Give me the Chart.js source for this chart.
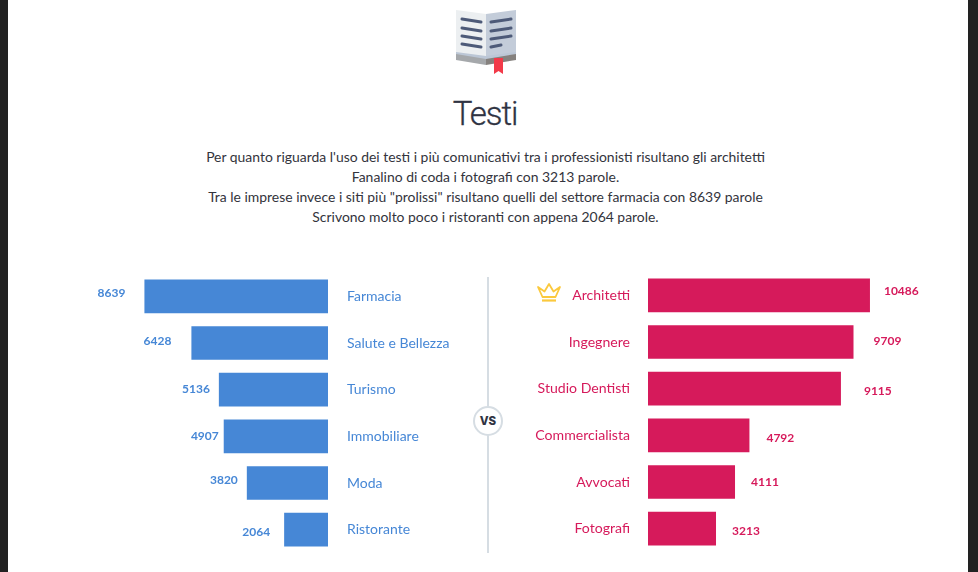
<!DOCTYPE html>
<html lang="it">
<head>
<meta charset="utf-8">
<title>Testi</title>
<script src="https://cdn.jsdelivr.net/npm/chart.js@4"></script>
<style>
  html, body { margin: 0; height: 100%; background: #222; overflow: hidden; }
  #page { position: absolute; left: 8px; top: 0; width: 960px; height: 572px; background: #fff; font-family: Lato, sans-serif; color: #33343c; }
  #book { position: absolute; left: 447px; top: 8px; }
  h1 { position: absolute; left: 0; top: 94px; width: 954px; margin: 0; text-align: center; font: 300 33px Roboto, sans-serif; letter-spacing: -1.1px; color: #2f3342; -webkit-text-stroke: 0.3px #2f3342; }
  #intro { position: absolute; left: 0; top: 147px; width: 955px; margin: 0; text-align: center; font-size: 13.93px; line-height: 20px; }
  #divider { position: absolute; left: 479px; top: 277px; width: 2px; height: 276px; background: #d6dde3; }
  #vs { position: absolute; left: 465px; top: 406px; width: 26px; height: 26px; border: 2px solid #d6dde3; border-radius: 50%; background: #fff; text-align: center; font: 800 11.5px/26px Inter, sans-serif; color: #2f3342; }
  #crown { position: absolute; left: 528px; top: 282px; }
  canvas { position: absolute; }
  #leftChart { left: 64px; top: 273px; }
  #rightChart { left: 480px; top: 272px; }
</style>
</head>
<body>
<div id="page">
  <svg id="book" width="62" height="68" viewBox="0 0 62 68">
    <path d="M31 6 L1 2 V48 L31 52 Z" fill="#eceff1"/>
    <path d="M31 6 L61 2 V48 L31 52 Z" fill="#c3ccd9"/>
    <path d="M1 44 L31 48 L61 44 V51 L31 56 L1 51 Z" fill="#bcc7d6"/>
    <path d="M1 46 L31 51 V57 L1 52 Z" fill="#a5a8ab"/>
    <path d="M31 51 L61 46 V52 L31 57 Z" fill="#85817e"/>
    <path d="M39 50 L48 50 V66 L43.5 63 L39 66 Z" fill="#f23a49"/>
    <g stroke="#4d5a78" stroke-width="3" stroke-linecap="round" fill="none">
      <path d="M7 11 L26 14 M7 20 L26 23 M7 28 L26 31 M7 36 L26 39"/>
      <path d="M36 14 L56 11 M36 23 L56 20 M36 31 L56 28 M36 39 L46 37"/>
    </g>
  </svg>
  <h1>Testi</h1>
  <p id="intro">Per quanto riguarda l'uso dei testi i più comunicativi tra i professionisti risultano gli architetti<br>
  Fanalino di coda i fotografi con 3213 parole.<br>
  Tra le imprese invece i siti più "prolissi" risultano quelli del settore farmacia con 8639 parole<br>
  Scrivono molto poco i ristoranti con appena 2064 parole.</p>
  <canvas id="leftChart" width="410" height="280"></canvas>
  <canvas id="rightChart" width="470" height="280"></canvas>
  <div id="divider"></div>
  <div id="vs">VS</div>
  <svg id="crown" width="26" height="21" viewBox="0 0 26 21" fill="none" stroke="#fbc93d" stroke-width="1.8" stroke-linejoin="round">
    <path d="M2 5 L6.5 15 H19.5 L24 5 L17.5 9.5 L13 2 L8.5 9.5 Z"/>
    <path d="M6 18.5 H20" stroke-width="2.2"/>
  </svg>
</div>

<script>
const impreseLabels = ["Farmacia", "Salute e Bellezza", "Turismo", "Immobiliare", "Moda", "Ristorante"];
const impreseValues = [8639, 6428, 5136, 4907, 3820, 2064];
const professioniLabels = ["Architetti", "Ingegnere", "Studio Dentisti", "Commercialista", "Avvocati", "Fotografi"];
const professioniValues = [10486, 9709, 9115, 4792, 4111, 3213];

const blue = "#4687d6";
const crimson = "#d61a5b";
Chart.defaults.font.family = "Lato, sans-serif";

// the numbers beside the bars sit at uneven distances in the picture
function valueLabels(gaps, shifts) {
  return {
    id: "valueLabels",
    afterDatasetsDraw(chart) {
      const ctx = chart.ctx;
      const meta = chart.getDatasetMeta(0);
      const reversed = chart.scales.x.options.reverse;
      ctx.save();
      ctx.font = "bold 12px Lato, sans-serif";
      ctx.fillStyle = chart.data.datasets[0].backgroundColor;
      ctx.textBaseline = "middle";
      ctx.textAlign = reversed ? "right" : "left";
      meta.data.forEach((bar, i) => {
        const x = reversed ? bar.x - gaps[i] : bar.x + gaps[i];
        ctx.fillText(chart.data.datasets[0].data[i], x, bar.y + shifts[i]);
      });
      ctx.restore();
    }
  };
}

function makeChart(id, labels, values, color, opts) {
  return new Chart(document.getElementById(id).getContext("2d"), {
    type: "bar",
    data: {
      labels: labels,
      datasets: [{ data: values, backgroundColor: color, barPercentage: 0.72, categoryPercentage: 1 }]
    },
    options: {
      indexAxis: "y",
      responsive: false,
      animation: false,
      layout: { padding: opts.padding },
      plugins: { legend: { display: false }, tooltip: { enabled: false } },
      scales: {
        x: { display: false, min: 0, max: 12000, reverse: opts.reverse },
        y: {
          position: opts.axis,
          // tick padding also eats into the top and bottom of the plot otherwise
          afterFit(scale) {
            scale.width = opts.axisWidth;
            scale.paddingTop = 0;
            scale.paddingBottom = 0;
          },
          grid: { display: false, drawTicks: false },
          border: { display: false },
          ticks: { color: color, padding: opts.tickPad, font: { size: opts.tickSize } }
        }
      }
    },
    plugins: [valueLabels(opts.gaps, opts.shifts)]
  });
}

makeChart("leftChart", impreseLabels, impreseValues, blue, {
  reverse: true, axis: "right", axisWidth: 140, tickPad: 19, tickSize: 14,
  padding: { left: 1, right: 14 },
  gaps: [19, 20, 9, 5, 9, 14],
  shifts: [-3, -2, -1, 0, -3, 2]
});

makeChart("rightChart", professioniLabels, professioniValues, crimson, {
  reverse: false, axis: "left", axisWidth: 160, tickPad: 18, tickSize: 14.1,
  padding: { left: 0, right: 56 },
  gaps: [14, 20, 23, 17, 16, 16],
  shifts: [-4, -1, 2, 3, 0, 2]
});
</script>
</body>
</html>
